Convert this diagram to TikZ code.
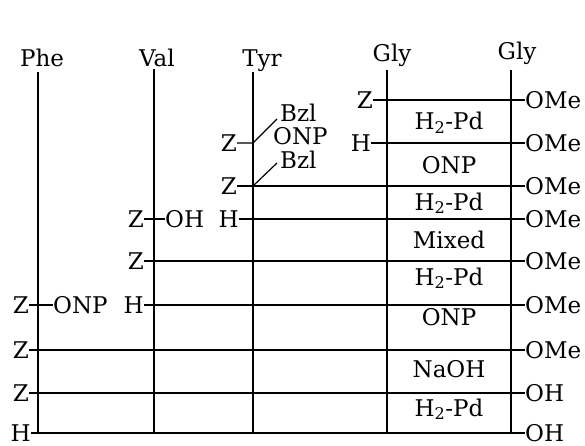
\documentclass[tikz,border=0pt]{standalone}
\usepackage{fontspec}
\setmainfont{DejaVu Serif}
\begin{document}
\begin{tikzpicture}[x=1pt,y=-1pt,
  lbl/.style={inner sep=0pt,font=\fontsize{23}{26}\selectfont},
  hdr/.style={inner sep=0pt,anchor=base,font=\fontsize{23}{26}\selectfont},
  mid/.style={inner sep=0pt,anchor=base,font=\fontsize{23}{26}\selectfont},
  ln/.style={line width=1.2pt}]
\useasboundingbox (0,0) rectangle (585,446);
% headers
\node[hdr] (phe) at (42,67) {Phe};
\node[hdr] (val) at (157,67) {Val};
\node[hdr] (tyr) at (262,67) {Tyr};
\node[hdr] (gly1) at (392,62) {Gly};
\node[hdr] (gly2) at (517,60) {Gly};
% vertical line ends
\coordinate (pheT) at (38,72);  \coordinate (pheB) at (38,433);
\coordinate (valT) at (154,69); \coordinate (valB) at (154,433);
\coordinate (tyrT) at (253,72); \coordinate (tyrB) at (253,433);
\coordinate (g1T) at (387,70);  \coordinate (g1B) at (387,433);
\coordinate (g2T) at (511,70);  \coordinate (g2B) at (511,433);
\draw[ln] (pheT) -- (pheB);
\draw[ln] (valT) -- (valB);
\draw[ln] (tyrT) -- (tyrB);
\draw[ln] (g1T) -- (g1B);
\draw[ln] (g2T) -- (g2B);
% right labels
\foreach \n/\y/\t in {r1/100/OMe,r2/143/OMe,r3/186/OMe,r4/219/OMe,r5/261/OMe,r6/305/OMe,r7/350/OMe,r8/393/OH,r9/433/OH}
  \node[lbl,anchor=west] (\n) at (525,\y) {\t};
% left labels
\node[lbl,anchor=east] (zg1) at (373,100) {Z};
\node[lbl,anchor=east] (hg1) at (371,143) {H};
\node[lbl,anchor=east] (zt1) at (237,143) {Z};
\node[lbl,anchor=east] (zt2) at (237,186) {Z};
\node[lbl,anchor=east] (ht) at (239,219) {H};
\node[lbl,anchor=east] (zv1) at (144,219) {Z};
\node[lbl,anchor=west] (ohv) at (165,219) {OH};
\node[lbl,anchor=east] (zv2) at (144,261) {Z};
\node[lbl,anchor=east] (hv) at (144,305) {H};
\node[lbl,anchor=east] (zp1) at (29,305) {Z};
\node[lbl,anchor=west] (onpp) at (53,305) {ONP};
\node[lbl,anchor=east] (zp2) at (29,350) {Z};
\node[lbl,anchor=east] (zp3) at (29,393) {Z};
\node[lbl,anchor=east] (hp) at (31,433) {H};
% horizontal connectors
\draw[ln] (zg1.east) -- (r1.west);
\draw[ln] (hg1.east) -- (r2.west);
\draw[ln] (zt2.east) -- (r3.west);
\draw[ln] (ht.east) -- (r4.west);
\draw[ln] (zv1.east) -- (ohv.west);
\draw[ln] (zv2.east) -- (r5.west);
\draw[ln] (hv.east) -- (r6.west);
\draw[ln] (zp1.east) -- (onpp.west);
\draw[ln] (zp2.east) -- (r7.west);
\draw[ln] (zp3.east) -- (r8.west);
\draw[ln] (hp.east) -- (r9.west);
% Tyr side chain annotations
\coordinate (t1) at (253,143);
\coordinate (t2) at (253,186);
\coordinate (d1) at (277,119);
\coordinate (d2) at (277,163);
\node[lbl,anchor=west] (bzl1) at (280,113) {Bzl};
\node[lbl,anchor=west] (onpt) at (273,136) {ONP};
\node[lbl,anchor=west] (bzl2) at (280,160) {Bzl};
\draw[ln] (zt1.east) -- (t1) -- (d1);
\draw[ln] (t2) -- (d2);
% reagents between Gly lines
\node[mid] (m1) at (449,130) {H\textsubscript{2}-Pd};
\node[mid] (m2) at (449,174) {ONP};
\node[mid] (m3) at (449,210) {H\textsubscript{2}-Pd};
\node[mid] (m4) at (449,248) {Mixed};
\node[mid] (m5) at (449,285) {H\textsubscript{2}-Pd};
\node[mid] (m6) at (449,325) {ONP};
\node[mid] (m7) at (449,377) {NaOH};
\node[mid] (m8) at (449,416) {H\textsubscript{2}-Pd};
\end{tikzpicture}
\end{document}
